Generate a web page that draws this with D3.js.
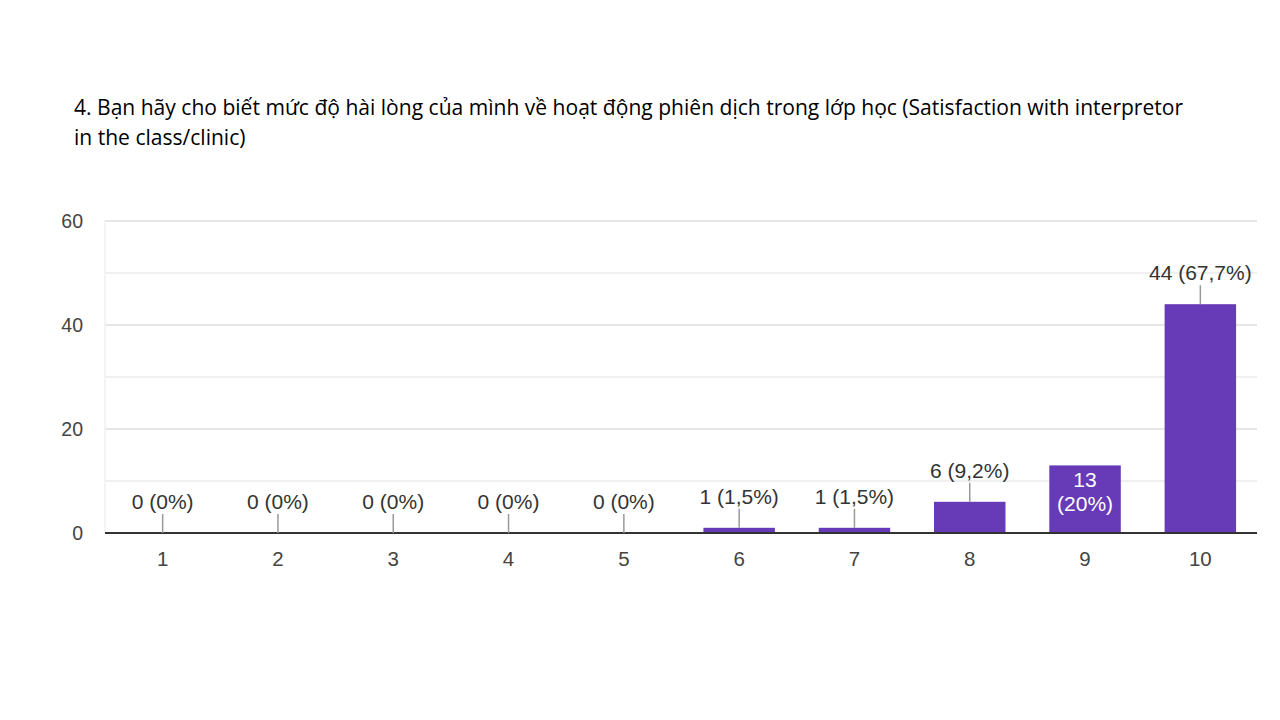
<!DOCTYPE html>
<html>
<head>
<meta charset="utf-8">
<script src="https://cdn.jsdelivr.net/npm/d3@7"></script>
<style>
  body { margin: 0; background: #fff; }
  svg { display: block; }
</style>
</head>
<body>
<div id="chart"></div>
<script>
// data
let categories = ['1', '2', '3', '4', '5', '6', '7', '8', '9', '10'];
let counts = [0, 0, 0, 0, 0, 1, 1, 6, 13, 44];
let percentLabels = ['0%', '0%', '0%', '0%', '0%', '1,5%', '1,5%', '9,2%', '20%', '67,7%'];
let yTicks = [0, 20, 40, 60];
let gridTicks = [10, 20, 30, 40, 50, 60];
let titleLines = [
    '4. Bạn hãy cho biết mức độ hài lòng của mình về hoạt động phiên dịch trong lớp học (Satisfaction with interpretor',
    'in the class/clinic)'
];

let width = 1280, height = 720;
let svg = d3.select('#chart')
    .append('svg')
    .attr('width', width)
    .attr('height', height);

// title
let title = svg.append('g').attr('id', 'titleG');
titleLines.forEach((t, i) => {
    title.append('text')
        .attr('x', 74)
        .attr('y', 115 + i * 30)
        .attr('font-family', 'Open Sans, Noto Sans, sans-serif')
        .attr('font-size', 20)
        .attr('fill', '#000')
        .text(t);
});
// squeeze first line to the reference width (Calibri is narrower)
let first = title.select('text').node();
let w = first.getComputedTextLength();
let scaleF = 1110 / w;
title.selectAll('text').attr('font-size', 20 * scaleF);

let x = d3.scaleBand()
    .domain(categories)
    .range([105, 1258])
    .paddingInner(0.38)
    .paddingOuter(0.19);

let y = d3.scaleLinear()
    .domain([0, 60])
    .range([533, 221]);

let chartFont = 'Liberation Sans, Arial, sans-serif';

// gridlines
svg.append('g')
    .attr('id', 'gridG')
    .selectAll('line')
    .data(gridTicks)
    .join('line')
    .attr('x1', 105)
    .attr('x2', 1257)
    .attr('y1', d => y(d))
    .attr('y2', d => y(d))
    .attr('stroke', d => d % 20 === 0 ? '#e6e6e6' : '#f0f0f0')
    .attr('stroke-width', 2);

// faint left border of the plot
svg.append('line')
    .attr('x1', 105)
    .attr('x2', 105)
    .attr('y1', y(60))
    .attr('y2', y(0))
    .attr('stroke', '#f0f0f0')
    .attr('stroke-width', 1.5);

// y axis labels
svg.append('g')
    .attr('id', 'yLabelG')
    .selectAll('text')
    .data(yTicks)
    .join('text')
    .attr('x', 83)
    .attr('y', d => y(d) + 7)
    .attr('text-anchor', 'end')
    .attr('font-family', chartFont)
    .attr('font-size', 19.5)
    .attr('fill', '#444')
    .text(d => d);

let data = categories.map((c, i) => ({cat: c, count: counts[i], pct: percentLabels[i]}));

// bars
svg.append('g')
    .attr('id', 'barG')
    .selectAll('rect')
    .data(data.filter(d => d.count > 0))
    .join('rect')
    .attr('x', d => x(d.cat))
    .attr('y', d => y(d.count))
    .attr('width', x.bandwidth())
    .attr('height', d => y(0) - y(d.count))
    .attr('fill', '#673ab7');

// baseline
svg.append('line')
    .attr('x1', 105)
    .attr('x2', 1257)
    .attr('y1', y(0))
    .attr('y2', y(0))
    .attr('stroke', '#333')
    .attr('stroke-width', 2);

// x axis labels
svg.append('g')
    .attr('id', 'xLabelG')
    .selectAll('text')
    .data(categories)
    .join('text')
    .attr('x', d => x(d) + x.bandwidth() / 2)
    .attr('y', 566)
    .attr('text-anchor', 'middle')
    .attr('font-family', chartFont)
    .attr('font-size', 20.5)
    .attr('fill', '#444')
    .text(d => d);

// annotations: outside bars with a leader line, inside for the 13 bar
let insideCats = ['9'];
let annG = svg.append('g').attr('id', 'annG');
let outside = data.filter(d => !insideCats.includes(d.cat));

annG.selectAll('line')
    .data(outside)
    .join('line')
    .attr('x1', d => x(d.cat) + x.bandwidth() / 2)
    .attr('x2', d => x(d.cat) + x.bandwidth() / 2)
    .attr('y1', d => y(d.count) - 19)
    .attr('y2', d => y(d.count))
    .attr('stroke', '#999')
    .attr('stroke-width', 1.5);

annG.selectAll('text.out')
    .data(outside)
    .join('text')
    .attr('class', 'out')
    .attr('x', d => x(d.cat) + x.bandwidth() / 2)
    .attr('y', d => y(d.count) - 24)
    .attr('text-anchor', 'middle')
    .attr('font-family', chartFont)
    .attr('font-size', 21)
    .attr('fill', '#333')
    .text(d => `${d.count} (${d.pct})`);

let inside = data.filter(d => insideCats.includes(d.cat));
inside.forEach(d => {
    let cx = x(d.cat) + x.bandwidth() / 2;
    let top = y(d.count);
    annG.append('text')
        .attr('x', cx)
        .attr('y', top + 22)
        .attr('text-anchor', 'middle')
        .attr('font-family', chartFont)
        .attr('font-size', 21)
        .attr('fill', '#fff')
        .text(d.count);
    annG.append('text')
        .attr('x', cx)
        .attr('y', top + 46)
        .attr('text-anchor', 'middle')
        .attr('font-family', chartFont)
        .attr('font-size', 21)
        .attr('fill', '#fff')
        .text(`(${d.pct})`);
});
</script>
</body>
</html>
